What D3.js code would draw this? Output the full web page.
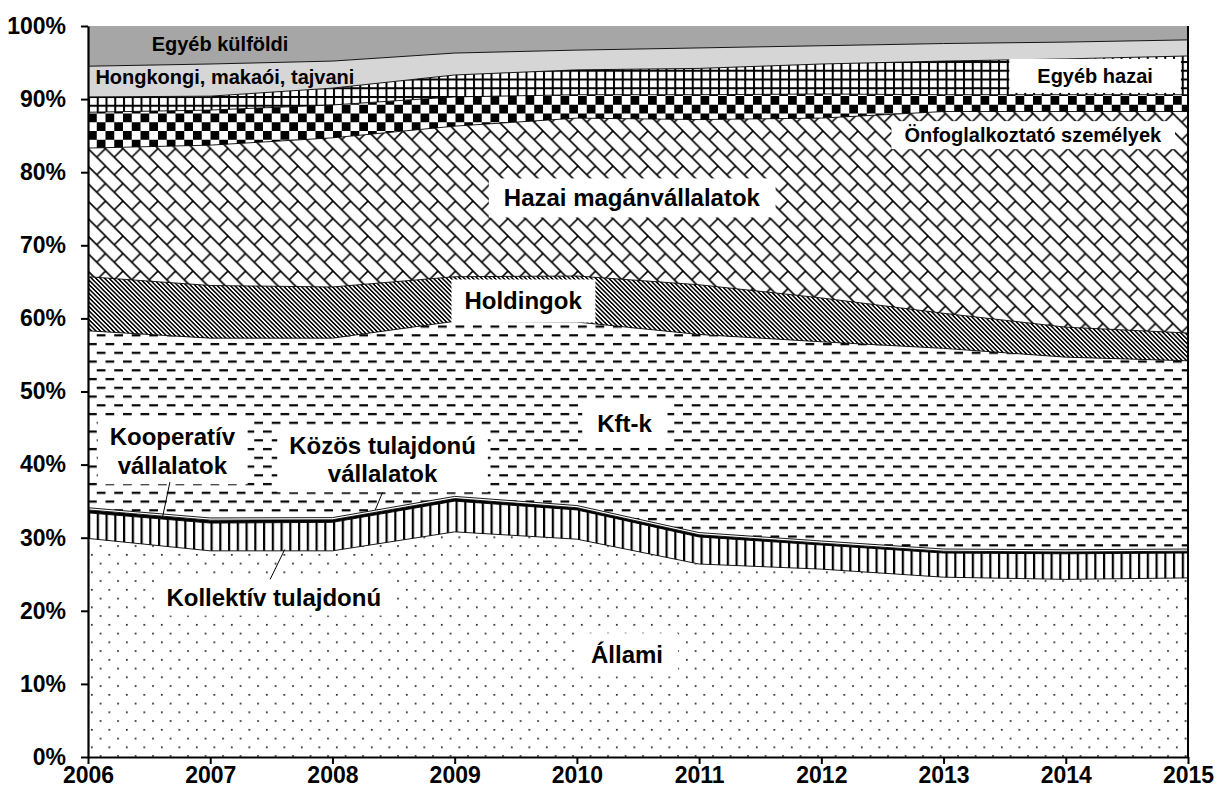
<!DOCTYPE html>
<meta charset="utf-8">
<script src="https://d3js.org/d3.v7.min.js"></script>
<style>
  body { margin: 0; background: #fff; }
  text { font-family: "Liberation Sans", Arial, sans-serif; font-weight: bold; fill: #000; }
</style>
<body>
<div id="chart"></div>
<script>
// adatok (%-os megoszlás, évenként)
var years = [2006, 2007, 2008, 2009, 2010, 2011, 2012, 2013, 2014, 2015];
var allami        = [29.9, 28.2, 28.2, 30.8, 29.8, 26.4, 25.7, 24.6, 24.3, 24.5];
var kollektiv     = [3.5, 3.8, 3.9, 4.2, 4.0, 3.7, 3.3, 3.3, 3.5, 3.4];
var kooperativ    = [0.4, 0.4, 0.35, 0.35, 0.3, 0.3, 0.25, 0.25, 0.25, 0.25];
var kozos         = [0.3, 0.3, 0.3, 0.3, 0.3, 0.3, 0.3, 0.3, 0.3, 0.3];
var kft           = [24.2, 24.6, 24.55, 23.95, 25.1, 27.1, 27.25, 27.45, 26.35, 25.75];
var holding       = [7.4, 7.2, 7.0, 6.1, 6.3, 6.8, 6.0, 4.8, 4.1, 3.8];
var hazai         = [17.6, 19.2, 20.4, 20.6, 21.6, 22.6, 24.6, 27.6, 29.5, 30.3];
var onfogl        = [4.9, 4.8, 4.5, 4.0, 3.2, 3.4, 3.3, 2.3, 2.3, 2.3];
var egyebHazai    = [2.1, 1.9, 2.3, 3.0, 3.4, 3.6, 4.1, 4.6, 4.9, 5.3];
var hongkong      = [4.2, 4.4, 3.7, 3.0, 2.7, 2.8, 2.5, 2.4, 2.3, 2.2];
var egyebKulfoldi = [5.5, 5.2, 4.8, 3.7, 3.3, 3.0, 2.7, 2.4, 2.2, 1.9];
var yTicks = [0, 10, 20, 30, 40, 50, 60, 70, 80, 90, 100];

var series = {
    allami: allami, kollektiv: kollektiv, kooperativ: kooperativ, kozos: kozos,
    kft: kft, holding: holding, hazai: hazai, onfogl: onfogl,
    egyebHazai: egyebHazai, hongkong: hongkong, egyebKulfoldi: egyebKulfoldi
};
var keys = Object.keys(series);
var table = years.map(function(yr, i) {
    var row = {year: yr};
    keys.forEach(function(k) { row[k] = series[k][i]; });
    return row;
});

var fills = {
    allami: "url(#dots)", kollektiv: "url(#vlines)", kooperativ: "#000", kozos: "#fff",
    kft: "url(#dashes)", holding: "url(#diag)", hazai: "url(#brick)", onfogl: "url(#checker)",
    egyebHazai: "url(#grid)", hongkong: "#d6d6d6", egyebKulfoldi: "#a6a6a6"
};

// feliratok: hely évben / százalékban
var labels = [
    {lines: ["Egyéb külföldi"], year: 2007.08, pct: 97.5, size: 20},
    {lines: ["Hongkongi, makaói, tajvani"], year: 2007.12, pct: 93.0, size: 20},
    {lines: ["Egyéb hazai"], year: 2014.24, pct: 93.2, size: 20, pad: [28, 6]},
    {lines: ["Önfoglalkoztató személyek"], year: 2013.73, pct: 85.1, size: 20, pad: [13, 3]},
    {lines: ["Hazai magánvállalatok"], year: 2010.45, pct: 76.5, size: 24, pad: [15, 6]},
    {lines: ["Holdingok"], year: 2009.56, pct: 62.4, size: 24, pad: [13, 8]},
    {lines: ["Kft-k"], year: 2010.39, pct: 45.7, size: 24, pad: [15, 7]},
    {lines: ["Kooperatív", "vállalatok"], year: 2006.69, pct: 43.8, size: 24, pad: [12, 5]},
    {lines: ["Közös tulajdonú", "vállalatok"], year: 2008.41, pct: 42.7, size: 24, pad: [12, 5]},
    {lines: ["Kollektív tulajdonú"], year: 2007.52, pct: 21.9, size: 24, pad: [12, 5]},
    {lines: ["Állami"], year: 2010.41, pct: 14.0, size: 24, pad: [15, 8]}
];
var leaders = [
    [[2006.67, 37.6], [2006.61, 32.8]],
    [[2008.41, 36.2], [2008.35, 33.8]],
    [[2007.61, 28.4], [2007.49, 24.3]]
];

var width = 1220, height = 796;
var margin = {top: 26, right: 32, bottom: 39, left: 88};
var w = width - margin.left - margin.right;
var h = height - margin.top - margin.bottom;

var svg = d3.select("#chart").append("svg")
    .attr("width", width).attr("height", height);

// mintázatok
var defs = svg.append("defs");
var P = 17.5, H = 8.75;
function pat(id, pw, ph) {
    var p = defs.append("pattern").attr("id", id)
        .attr("patternUnits", "userSpaceOnUse")
        .attr("width", pw).attr("height", ph);
    p.append("rect").attr("width", pw).attr("height", ph).attr("fill", "#fff");
    return p;
}
var p;
p = pat("dots", P, P);
p.append("rect").attr("x", 3).attr("y", 3).attr("width", 1.6).attr("height", 1.6).attr("fill", "#000");
p.append("rect").attr("x", 3 + H).attr("y", 3 + H).attr("width", 1.6).attr("height", 1.6).attr("fill", "#000");

p = pat("vlines", H, H);
p.append("rect").attr("x", 0).attr("width", 2.2).attr("height", H).attr("fill", "#000");

p = pat("dashes", P, P);
p.append("rect").attr("x", 0).attr("y", 2).attr("width", H).attr("height", 2.2).attr("fill", "#000");
p.append("rect").attr("x", H).attr("y", 2 + H).attr("width", H).attr("height", 2.2).attr("fill", "#000");

p = pat("diag", 3.1, 10).attr("patternTransform", "rotate(-45)");
p.append("rect").attr("width", 1.55).attr("height", 10).attr("fill", "#000");

p = pat("brick", P, P);
p.append("path")
    .attr("d", "M0,0L" + P + "," + P + "M" + (P - 2) + ",-2L" + (P + 2) + ",2M-2," + (P - 2) + "L2," + (P + 2) +
        "M" + H + "," + H + "L" + P + ",0")
    .attr("stroke", "#000").attr("stroke-width", 1.6).attr("fill", "none");

p = pat("checker", P, P);
p.append("rect").attr("width", H).attr("height", H).attr("fill", "#000");
p.append("rect").attr("x", H).attr("y", H).attr("width", H).attr("height", H).attr("fill", "#000");

p = pat("grid", H, H);
p.append("rect").attr("width", H).attr("height", 2).attr("fill", "#000");
p.append("rect").attr("width", 2).attr("height", H).attr("fill", "#000");

var g = svg.append("g")
    .attr("transform", "translate(" + margin.left + "," + margin.top + ")");

var x = d3.scaleLinear().domain([2006, 2015]).range([0, w]);
var y = d3.scaleLinear().domain([0, 100]).range([h, 0]);

var stacked = d3.stack().keys(keys)(table);

var area = d3.area()
    .x(function(d) { return x(d.data.year); })
    .y0(function(d) { return y(d[0]); })
    .y1(function(d) { return y(d[1]); });

g.selectAll(".layer").data(stacked).enter().append("path")
    .attr("class", "layer")
    .attr("d", area)
    .attr("fill", function(d) { return fills[d.key]; });

// határvonalak a rétegek között
var line = d3.line()
    .x(function(d) { return x(d.data.year); })
    .y(function(d) { return y(d[1]); });
g.selectAll(".edge").data(stacked.slice(0, keys.length - 1)).enter().append("path")
    .attr("class", "edge")
    .attr("d", line)
    .attr("fill", "none").attr("stroke", "#000").attr("stroke-width", 0.9);

// jobb oldali szél
g.append("line")
    .attr("x1", x(2015)).attr("x2", x(2015))
    .attr("y1", y(0)).attr("y2", y(100))
    .attr("stroke", "#000").attr("stroke-width", 2);

// feliratok
labels.forEach(function(l) {
    var lg = g.append("g");
    var lh = l.size * 1.2;
    var t = lg.append("text")
        .attr("text-anchor", "middle")
        .style("font-size", l.size + "px");
    l.lines.forEach(function(s, i) {
        t.append("tspan")
            .attr("x", x(l.year))
            .attr("y", y(l.pct) + i * lh)
            .attr("dy", "0.36em")
            .text(s);
    });
    if (l.pad) {
        var bb = t.node().getBBox();
        lg.insert("rect", "text")
            .attr("x", bb.x - l.pad[0]).attr("y", bb.y - l.pad[1])
            .attr("width", bb.width + 2 * l.pad[0]).attr("height", bb.height + 2 * l.pad[1])
            .attr("fill", "#fff");
    }
});

g.selectAll(".leader").data(leaders).enter().append("line")
    .attr("class", "leader")
    .attr("x1", function(d) { return x(d[0][0]); })
    .attr("y1", function(d) { return y(d[0][1]); })
    .attr("x2", function(d) { return x(d[1][0]); })
    .attr("y2", function(d) { return y(d[1][1]); })
    .attr("stroke", "#000").attr("stroke-width", 1);

// tengelyek
var yAxis = d3.axisLeft(y).tickValues(yTicks)
    .tickFormat(function(d) { return d + "%"; })
    .tickSize(7).tickPadding(15).tickSizeOuter(0);
var gy = g.append("g").call(yAxis);

var xAxis = d3.axisBottom(x).tickValues(years)
    .tickFormat(d3.format("d"))
    .tickSize(7).tickPadding(3).tickSizeOuter(0);
var gx = g.append("g").attr("transform", "translate(0," + h + ")").call(xAxis);

[gy, gx].forEach(function(ax) {
    ax.select(".domain").attr("stroke-width", 2.2);
    ax.selectAll(".tick line").attr("stroke-width", 2);
    ax.selectAll("text")
        .style("font-family", '"Liberation Sans", Arial, sans-serif')
        .style("font-weight", "bold")
        .style("font-size", "23px");
});
</script>
</body>
